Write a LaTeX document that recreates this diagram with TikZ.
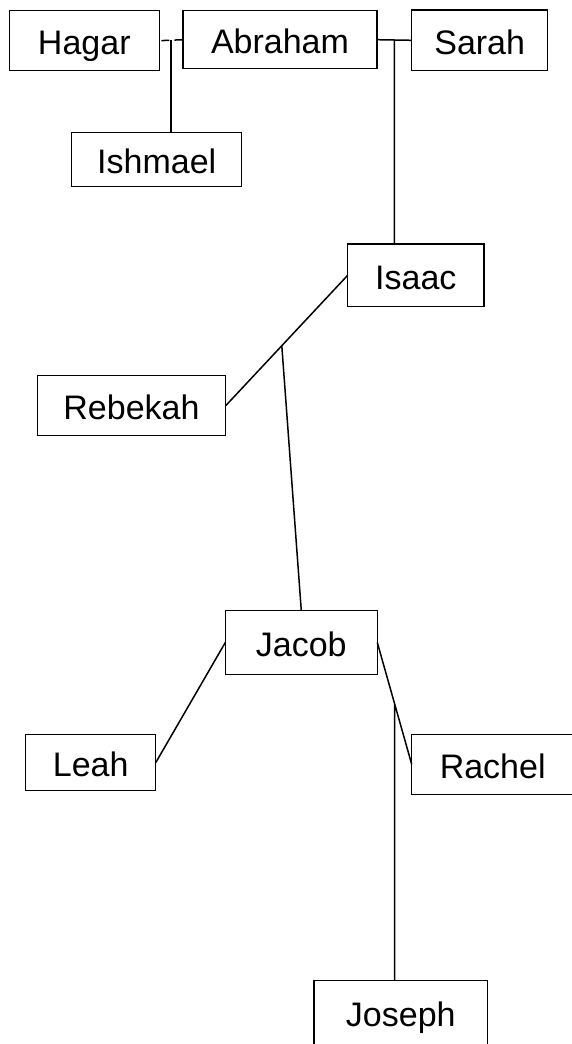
\documentclass[tikz,border=0pt]{standalone}
\usepackage{fontspec}
\setmainfont{Liberation Sans}
\usetikzlibrary{positioning,calc}

\begin{document}
\begin{tikzpicture}[x=1pt,y=-1pt,line width=1.5pt,
				every node/.style={person},
				person/.style={draw,rectangle,inner sep=0pt,outer sep=0pt,text height=30pt,text depth=2.6pt,
					font=\fontsize{34}{40}\selectfont}]
				\useasboundingbox (0,0) rectangle (571,1044);
				\node (hagar)   [minimum width=150pt,minimum height=60pt] at (84.3,40.7)   {Hagar};
				\node (abraham) [minimum width=194pt,minimum height=58pt] at (280,39.7)    {Abraham};
				\node (sarah)   [minimum width=136pt,minimum height=60.7pt] at (479.7,40.3) {Sarah};
				\node (ishmael) [minimum width=170pt,minimum height=54pt] at (156.7,159.7) {Ishmael};
				\node (isaac)   [minimum width=136.3pt,minimum height=62.7pt] at (415.8,275.3) {Isaac};
				\node (rebekah) [minimum width=188.4pt,minimum height=60pt] at (131.5,405.7) {Rebekah};
				\node (jacob)   [minimum width=152pt,minimum height=63.6pt] at (301.3,642.5) {Jacob};
				\node (leah)    [minimum width=130pt,minimum height=56pt] at (90.7,762.7)  {Leah};
				\node (rachel)  [minimum width=162pt,minimum height=60pt] at (492.7,764.3) {Rachel};
				\node (joseph)  [minimum width=173.7pt,minimum height=64pt] at (400.8,1012.7) {Joseph};
				
				% couples and their children
				\coordinate (HA) at ($(hagar.east)!0.5!(abraham.west)$);
				\coordinate (AS) at ($(abraham.east)!0.5!(sarah.west)$);
				\coordinate (IR) at ($(isaac.west)!0.54!(rebekah.east)$);
				\coordinate (JR) at ($(jacob.east)!0.5!(rachel.west)$);
				
				\draw[dash pattern=on 8pt off 5pt,dash phase=11pt] (hagar.east) -- (abraham.west);
				\draw (HA) -- (HA |- ishmael.north);
				\draw (abraham.east) -- (sarah.west)
					(AS) -- (AS |- isaac.north);
				\draw (isaac.west) -- (rebekah.east)
					(IR) -- (jacob.north);
				\draw (jacob.west) -- (leah.east);
				\draw (jacob.east) -- (rachel.west)
					(JR) -- (JR |- joseph.north);
			\end{tikzpicture}
\end{document}
